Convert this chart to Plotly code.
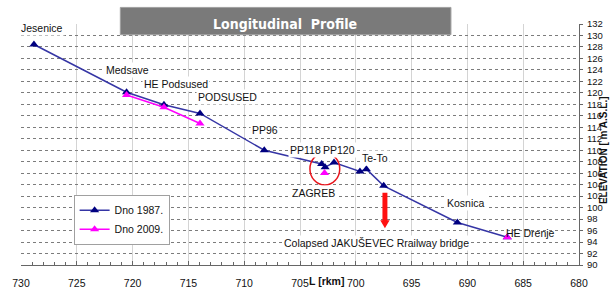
import plotly.graph_objects as go

# ---- data ----
km_1987 = [728.84, 720.54, 717.19, 713.96, 708.2, 703.06, 702.75, 701.95, 699.63, 699.05, 697.5, 690.9, 686.43]
elev_1987 = [128.43, 120.1, 117.94, 116.41, 110.0, 107.6, 107.05, 107.85, 106.3, 106.7, 103.8, 97.4, 94.85]

km_2009 = [720.54, 717.19, 713.96, None, 702.8, None, 686.43]
elev_2009 = [119.64, 117.49, 114.66, None, 106.04, None, 94.85]

x_ticks = [730, 725, 720, 715, 710, 705, 700, 695, 690, 685, 680]
y_ticks = list(range(90, 133, 2))

# labels: text, km, elevation
labels = ["Jesenice", "Medsave", "HE Podsused", "PODSUSED", "PP96", "PP118", "PP120",
          "Te-To", "ZAGREB", "Kosnica", "Colapsed JAKUŠEVEC Rrailway bridge"]
label_km = [728.13, 720.48, 716.12, 711.49, 708.11, 704.47, 701.53,
            698.24, 703.75, 690.14, 698.15]
label_elev = [131.32, 124.0, 121.63, 119.25, 113.47, 110.06, 110.06,
              108.70, 102.58, 100.88, 93.91]

FONT = "Liberation Sans, Arial, sans-serif"
NARROW = "Liberation Sans Narrow, DejaVu Sans Condensed, Arial Narrow, Liberation Sans, sans-serif"

fig = go.Figure()
fig.add_trace(go.Scatter(
    x=km_1987, y=elev_1987, mode="lines+markers", name="Dno 1987.",
    line=dict(color="#3535a5", width=1.5),
    marker=dict(symbol="triangle-up", size=8, color="#000080"),
))
fig.add_trace(go.Scatter(
    x=km_2009, y=elev_2009, mode="lines+markers", name="Dno 2009.",
    connectgaps=False,
    line=dict(color="#ff00ff", width=1.5),
    marker=dict(symbol="triangle-up", size=8, color="#ff00ff"),
))

annotations = []
for t, xk, ye in zip(labels, label_km, label_elev):
    annotations.append(dict(x=xk, y=ye, xref="x", yref="y", text=t, showarrow=False,
                            font=dict(family=FONT, size=10.5, color="#111"),
                            bgcolor="white", borderpad=1))
annotations.append(dict(x=684.36, y=95.61, xref="x", yref="y", text="HE Drenje", showarrow=False,
                        font=dict(family=FONT, size=10.5, color="#111")))
# title
annotations.append(dict(x=0.4733, y=1.0, xref="paper", yref="paper", text="<b>Longitudinal  Profile</b>",
                        showarrow=False, xanchor="center", yanchor="middle",
                        font=dict(family=NARROW, size=14, color="white")))
# axis titles
annotations.append(dict(x=0.548, y=-0.1, xref="paper", yref="paper", text="<b>L [rkm]</b>",
                        showarrow=False, font=dict(family=FONT, size=10.5, color="#111")))
annotations.append(dict(x=1.057, y=0.478, xref="paper", yref="paper", text="<b>ELEVATION [ m A.S.L.]</b>",
                        showarrow=False, textangle=-90, font=dict(family=FONT, size=10, color="#111")))

# arrow geometry (km / elevation)
ax_c, a_half_shaft, a_half_head = 697.39, 0.222, 0.42
a_top, a_neck, a_tip = 102.58, 97.82, 96.41
arrow_path = (f"M {ax_c+a_half_shaft},{a_top} L {ax_c-a_half_shaft},{a_top} "
              f"L {ax_c-a_half_shaft},{a_neck} L {ax_c-a_half_head},{a_neck} "
              f"L {ax_c},{a_tip} L {ax_c+a_half_head},{a_neck} L {ax_c+a_half_shaft},{a_neck} Z")

shapes = [
    dict(type="rect", xref="paper", yref="paper", x0=0.178, x1=0.7705, y0=0.9555, y1=1.0688,
         fillcolor="#7a7a7a", line=dict(color="#a0a0a0", width=1), layer="above"),
    dict(type="circle", xref="x", yref="y", x0=704.11, x1=701.44, y0=103.94, y1=109.55,
         line=dict(color="#e8141c", width=1.5), layer="above"),
    dict(type="path", xref="x", yref="y", path=arrow_path, fillcolor="#ff1010",
         line=dict(color="#ff1010", width=0), layer="above"),
]

fig.update_layout(
    width=615, height=301,
    margin=dict(l=17, r=36, t=24, b=30),
    paper_bgcolor="white", plot_bgcolor="white",
    font=dict(family=FONT, size=11, color="#111"),
    showlegend=True,
    hovermode=False,
    legend=dict(x=0.0943, y=0.2915, xref="paper", yref="paper", xanchor="left", yanchor="top",
                bgcolor="white", bordercolor="#a0a0a0", borderwidth=1,
                font=dict(family=FONT, size=10.5, color="#111"), itemwidth=30,
                tracegroupgap=0),
    annotations=annotations,
    shapes=shapes,
    xaxis=dict(range=[730, 680], tickvals=x_ticks, showgrid=True, gridcolor="#d4d4d4", gridwidth=1,
               zeroline=False, showline=True, linecolor="#666", linewidth=1,
               ticks="inside", ticklen=4, tickcolor="#666",
               minor=dict(dtick=1, ticks="inside", ticklen=3, tickcolor="#666", showgrid=False),
               tickfont=dict(family=FONT, size=10.5, color="#111"), ticklabelstandoff=8),
    yaxis=dict(range=[90, 132], tickvals=y_ticks, side="right", showgrid=True, gridcolor="#7c7c7c",
               griddash="dot", gridwidth=1, zeroline=False, showline=True, linecolor="#666",
               linewidth=1, ticks="outside", ticklen=3, tickcolor="#666",
               tickfont=dict(family=FONT, size=9.5, color="#111"), ticklabelstandoff=2),
)

fig.write_html("out.html", config={"displayModeBar": False},
               post_script="document.body.style.margin='0px';")
